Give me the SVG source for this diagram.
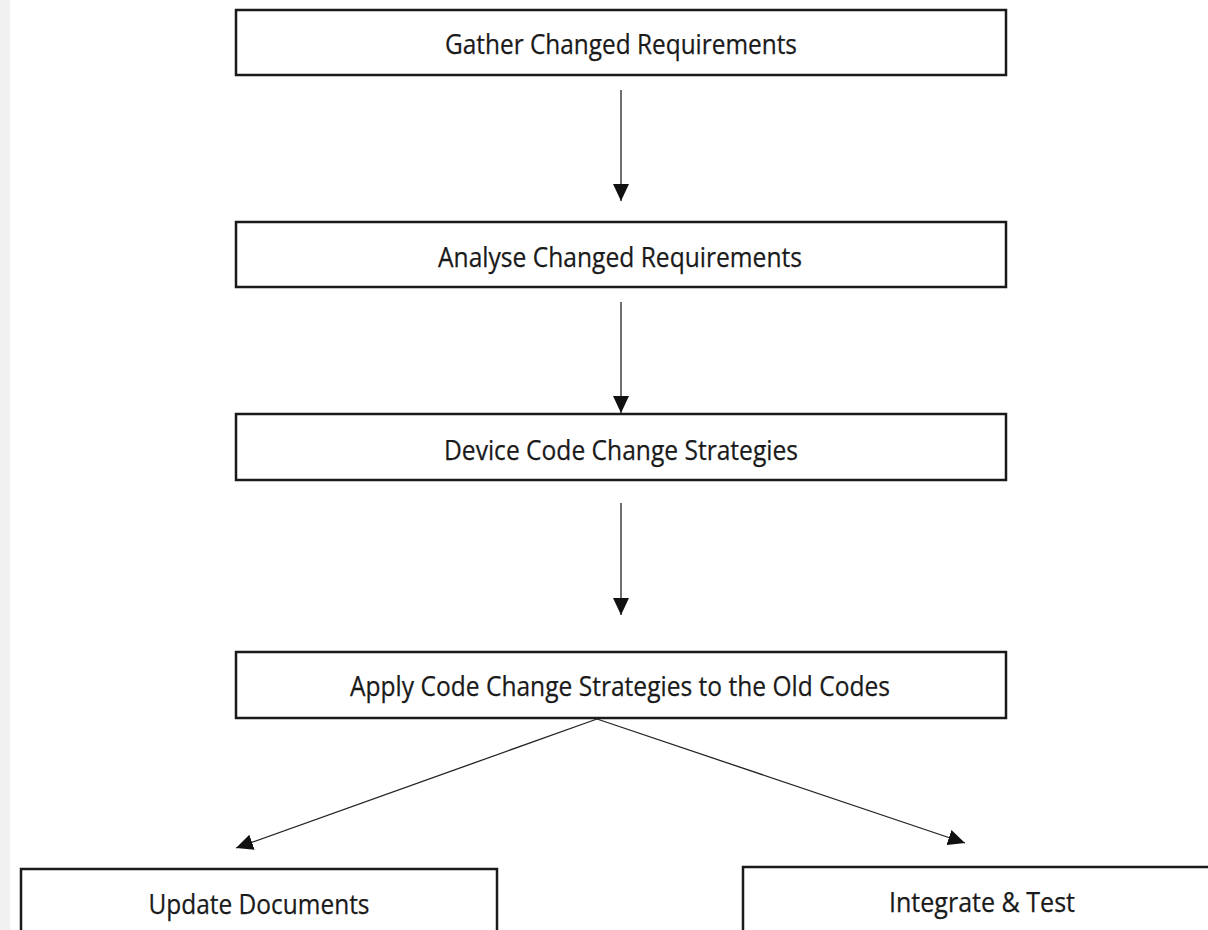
<svg xmlns="http://www.w3.org/2000/svg" width="1208" height="930" viewBox="0 0 1208 930">
  <style>
    .box { fill: #ffffff; stroke: #1a1a1a; stroke-width: 2.5; }
    .label { font-family: "Open Sans", "Liberation Sans", sans-serif; font-size: 28px; fill: #1a1a1a; stroke: #1a1a1a; stroke-width: 0.25; text-anchor: middle; }
    .link { stroke: #222222; stroke-width: 1.3; fill: none; marker-end: url(#head); }
  </style>
  <defs>
    <marker id="head" viewBox="0 0 17 16" refX="17" refY="8" markerWidth="17" markerHeight="16" markerUnits="userSpaceOnUse" orient="auto">
      <path d="M0,0 L17,8 L0,16 Z" fill="#111111"/>
    </marker>
  </defs>

  <rect x="0" y="0" width="1208" height="930" fill="#ffffff"/>
  <!-- page margin strip -->
  <rect x="0" y="0" width="10" height="930" fill="#f1f1f1"/>

  <g id="connectors">
    <line class="link" x1="621" y1="90" x2="621" y2="201"/>
    <line class="link" x1="621" y1="302" x2="621" y2="413"/>
    <line class="link" x1="621" y1="503" x2="621" y2="615"/>
    <line class="link" x1="597" y1="719" x2="236" y2="848"/>
    <line class="link" x1="597" y1="719" x2="965" y2="843"/>
  </g>

  <g id="gather">
    <rect class="box" x="236" y="10" width="770" height="65"/>
    <text class="label" x="621" y="54" textLength="352" lengthAdjust="spacingAndGlyphs">Gather Changed Requirements</text>
  </g>

  <g id="analyse">
    <rect class="box" x="236" y="222" width="770" height="65"/>
    <text class="label" x="620" y="267" textLength="364" lengthAdjust="spacingAndGlyphs">Analyse Changed Requirements</text>
  </g>

  <g id="device">
    <rect class="box" x="236" y="414" width="770" height="66"/>
    <text class="label" x="621" y="460" textLength="354" lengthAdjust="spacingAndGlyphs">Device Code Change Strategies</text>
  </g>

  <g id="apply">
    <rect class="box" x="236" y="652" width="770" height="66"/>
    <text class="label" x="620" y="696" textLength="540" lengthAdjust="spacingAndGlyphs">Apply Code Change Strategies to the Old Codes</text>
  </g>

  <g id="update">
    <rect class="box" x="21" y="869" width="476" height="80"/>
    <text class="label" x="259" y="914" textLength="221" lengthAdjust="spacingAndGlyphs">Update Documents</text>
  </g>

  <g id="integrate">
    <rect class="box" x="743" y="867" width="480" height="80"/>
    <text class="label" x="982" y="912" textLength="186" lengthAdjust="spacingAndGlyphs">Integrate &amp; Test</text>
  </g>
</svg>
